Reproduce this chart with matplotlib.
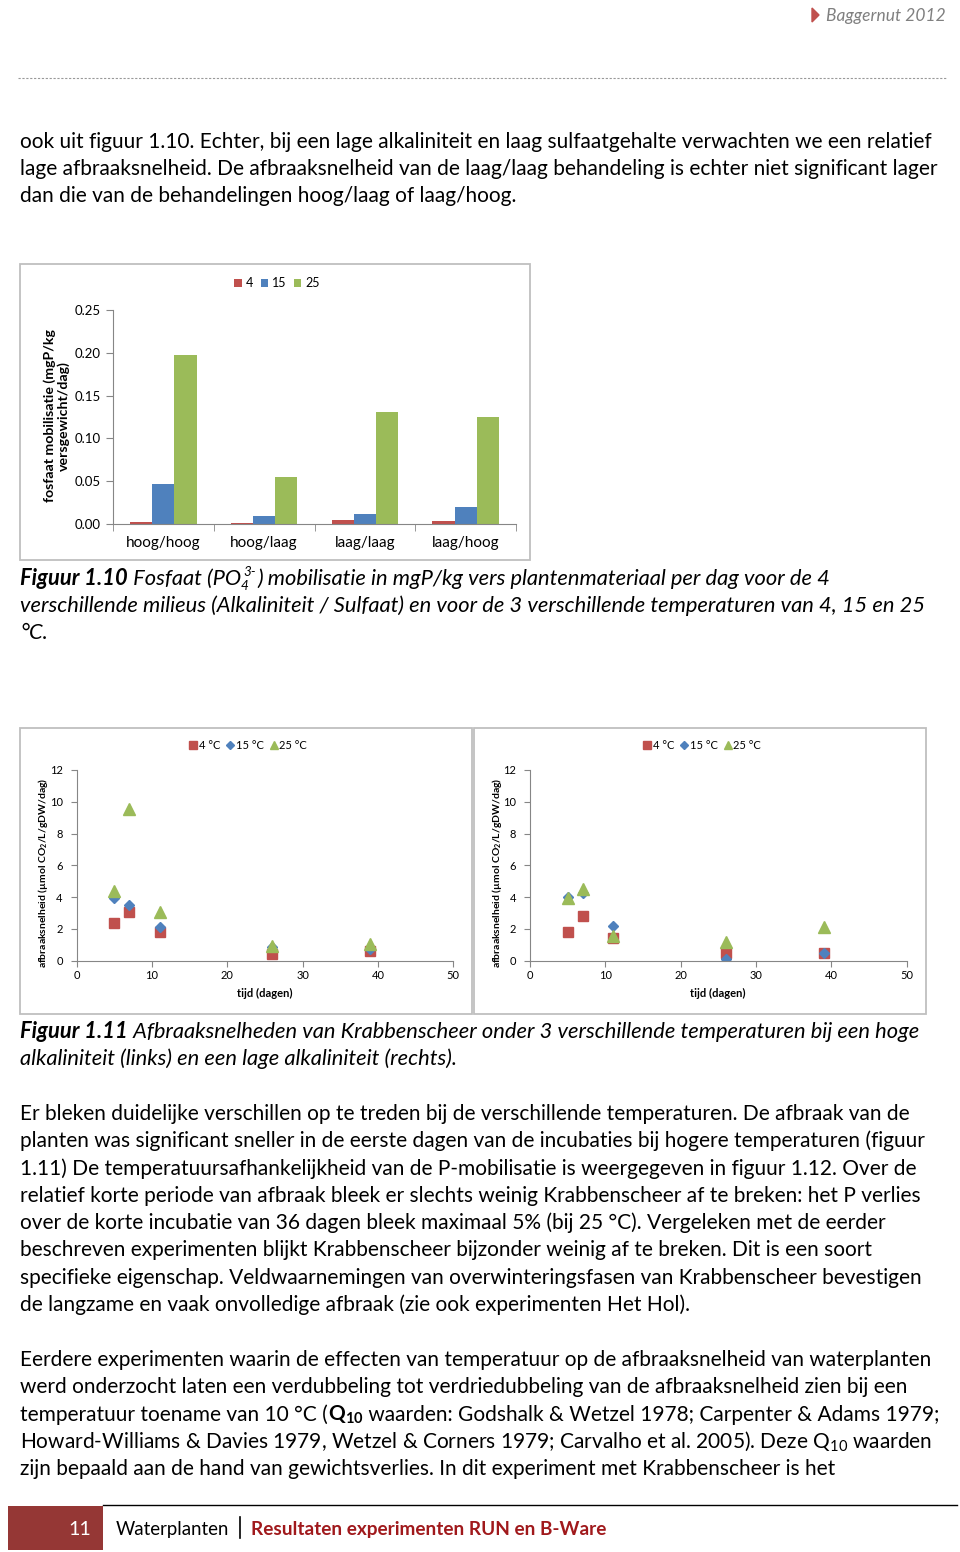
import matplotlib
matplotlib.use("Agg")
import matplotlib.pyplot as plt
from matplotlib.patches import Rectangle, Polygon
from matplotlib.lines import Line2D
import numpy as np

FONT = ["Lato", "DejaVu Sans"]
plt.rcParams["font.family"] = FONT
plt.rcParams["mathtext.fontset"] = "custom"
plt.rcParams["mathtext.rm"] = "Lato"
plt.rcParams["mathtext.it"] = "Lato:italic"
plt.rcParams["mathtext.bf"] = "Lato:bold"

# data: figuur 1.10
milieus = ["hoog/hoog", "hoog/laag", "laag/laag", "laag/hoog"]
temps_bar = ["4", "15", "25"]
p_4 = [0.002, 0.001, 0.005, 0.003]
p_15 = [0.047, 0.009, 0.012, 0.020]
p_25 = [0.198, 0.055, 0.131, 0.125]

# data: figuur 1.11 (tijd in dagen)
tijd = [5, 7, 11, 26, 39]
hoog_4 = [2.39, 3.08, 1.80, 0.44, 0.61]
hoog_15 = [3.96, 3.50, 2.14, 0.88, 0.73]
hoog_25 = [4.38, 9.52, 3.08, 0.94, 1.07]
laag_4 = [1.83, 2.81, 1.45, 0.48, 0.50]
laag_15 = [4.03, 4.28, 2.18, 0.08, 0.48]
laag_25 = [3.96, 4.51, 1.53, 1.15, 2.10]
temps_scatter = ["4 °C", "15 °C", "25 °C"]

RED, BLUE, GREEN = "#C0504D", "#4F81BD", "#9BBB59"
AXC = "#868686"
W, H = 960, 1552

fig = plt.figure(figsize=(W / 100, H / 100), dpi=100)
r = fig.canvas.get_renderer()


def fx(x):
    return x / W


def fy(y):
    return 1 - y / H


def fit_size(s, width, base=12, **kw):
    t = fig.text(0, 0, s, fontsize=base, **kw)
    w = t.get_window_extent(renderer=r).width
    t.remove()
    return base * width / w


def runs(x, y, parts, size, color="black"):
    # draw pieces of one line next to each other, return end x
    for s, style in parts:
        t = fig.text(fx(x), fy(y), s, fontsize=size, va="baseline", ha="left",
                     color=color, **style)
        x += t.get_window_extent(renderer=r).width
    return x


def box(x0, y0, x1, y1):
    fig.add_artist(Rectangle((fx(x0), fy(y1)), (x1 - x0) / W, (y1 - y0) / H,
                             transform=fig.transFigure, fill=False,
                             ec="#BFBFBF", lw=1.3))


# ---- header
fig.add_artist(Polygon([[fx(812), fy(8)], [fx(812), fy(22)], [fx(819), fy(15)]],
                       closed=True, transform=fig.transFigure, color=RED))
hs = fit_size("Baggernut 2012", 119, style="italic")
fig.text(fx(826), fy(21), "Baggernut 2012", fontsize=hs, style="italic",
         color="#808080", va="baseline")
fig.add_artist(Line2D([fx(18), fx(947)], [fy(78), fy(78)], transform=fig.transFigure,
                      color="#999999", lw=0.8, ls=(0, (2, 1.5))))

# ---- body text
line1 = "ook uit figuur 1.10. Echter, bij een lage alkaliniteit en laag sulfaatgehalte verwachten we een relatief"
BS = fit_size(line1, 912)
cap2 = "verschillende milieus (Alkaliniteit / Sulfaat) en voor de 3 verschillende temperaturen van 4, 15 en 25"
IS = fit_size(cap2, 900, style="italic")
N = {}
I = {"style": "italic"}
BI = {"style": "italic", "weight": "bold"}
B = {"weight": "bold"}

para1 = [
    line1,
    "lage afbraaksnelheid. De afbraaksnelheid van de laag/laag behandeling is echter niet significant lager",
    "dan die van de behandelingen hoog/laag of laag/hoog.",
]
for i, s in enumerate(para1):
    runs(20, 148 + 27 * i, [(s, N)], BS)

# caption 1.10 with stacked sub/superscript
xe = runs(20, 585, [("Figuur 1.10", BI), (" Fosfaat (PO", I)], IS)
w1 = runs(xe, 590, [("4", I)], IS * 0.62)
w2 = runs(xe + 3, 576, [("3-", I)], IS * 0.62)
runs(max(w1, w2) + 1, 585, [(") mobilisatie in mgP/kg vers plantenmateriaal per dag voor de 4", I)], IS)
runs(20, 612, [(cap2, I)], IS)
runs(20, 639, [("°C.", I)], IS)

runs(20, 1038, [("Figuur 1.11", BI),
                (" Afbraaksnelheden van Krabbenscheer onder 3 verschillende temperaturen bij een hoge", I)], IS)
runs(20, 1065, [("alkaliniteit (links) en een lage alkaliniteit (rechts).", I)], IS)

para2 = [
    "Er bleken duidelijke verschillen op te treden bij de verschillende temperaturen. De afbraak van de",
    "planten was significant sneller in de eerste dagen van de incubaties bij hogere temperaturen (figuur",
    "1.11) De temperatuursafhankelijkheid van de P-mobilisatie is weergegeven in figuur 1.12. Over de",
    "relatief korte periode van afbraak bleek er slechts weinig Krabbenscheer af te breken: het P verlies",
    "over de korte incubatie van 36 dagen bleek maximaal 5% (bij 25 °C). Vergeleken met de eerder",
    "beschreven experimenten blijkt Krabbenscheer bijzonder weinig af te breken. Dit is een soort",
    "specifieke eigenschap. Veldwaarnemingen van overwinteringsfasen van Krabbenscheer bevestigen",
    "de langzame en vaak onvolledige afbraak (zie ook experimenten Het Hol).",
]
for i, s in enumerate(para2):
    runs(20, 1120 + 27.3 * i, [(s, N)], BS)

y3 = [1366, 1393, 1421, 1448, 1475]
runs(20, y3[0], [("Eerdere experimenten waarin de effecten van temperatuur op de afbraaksnelheid van waterplanten", N)], BS)
runs(20, y3[1], [("werd onderzocht laten een verdubbeling tot verdriedubbeling van de afbraaksnelheid zien bij een", N)], BS)
runs(20, y3[2], [("temperatuur toename van 10 °C (", N), (r"Q$_{\mathbf{10}}$", B),
                 (" waarden: Godshalk & Wetzel 1978; Carpenter & Adams 1979;", N)], BS)
runs(20, y3[3], [(r"Howard-Williams & Davies 1979, Wetzel & Corners 1979; Carvalho et al. 2005). Deze Q$_{10}$ waarden", N)], BS)
runs(20, y3[4], [("zijn bepaald aan de hand van gewichtsverlies. In dit experiment met Krabbenscheer is het", N)], BS)

# ---- figuur 1.10 bar chart
box(20, 264, 530, 560)
ax1 = fig.add_axes([fx(113), fy(524), (516 - 113) / W, (524 - 310) / H])
x = np.arange(len(milieus)) + 0.5
bw = 0.22
for off, vals, c, lab in [(-bw, p_4, RED, temps_bar[0]), (0, p_15, BLUE, temps_bar[1]),
                          (bw, p_25, GREEN, temps_bar[2])]:
    ax1.bar(x + off, vals, bw, color=c, label=lab)
ax1.set_xlim(0, 4)
ax1.set_ylim(0, 0.25)
ax1.set_yticks(np.arange(0, 0.26, 0.05))
ax1.set_yticklabels(["%.2f" % v for v in np.arange(0, 0.26, 0.05)], fontsize=9.5)
ax1.set_xticks(x)
ax1.set_xticklabels(milieus, fontsize=11)
ax1.set_xticks(np.arange(5), minor=True)
ax1.tick_params(axis="x", which="major", length=0, pad=9)
ax1.tick_params(axis="x", which="minor", length=5, color=AXC)
ax1.tick_params(axis="y", length=5, color=AXC, pad=4)
for s in ["top", "right"]:
    ax1.spines[s].set_visible(False)
for s in ["left", "bottom"]:
    ax1.spines[s].set_color(AXC)
ax1.patch.set_alpha(0)
fig.text(fx(57), fy(416), "fosfaat mobilisatie (mgP/kg\nversgewicht/dag)", rotation=90,
         ha="center", va="center", fontsize=10.2, weight="bold", linespacing=1.1,
         multialignment="center")
ax1.legend(loc="center", bbox_to_anchor=(fx(277), fy(283)), bbox_transform=fig.transFigure,
           ncol=3, frameon=False, handlelength=0.6, handleheight=0.6, handletextpad=0.3,
           columnspacing=0.6, fontsize=9)


# ---- figuur 1.11 scatter charts
def scatter_panel(left, frame, a4, a15, a25, ylab_x, leg_x):
    box(*frame)
    ax = fig.add_axes([fx(left), fy(960.7), 376.5 / W, (960.7 - 770) / H])
    ax.plot(tijd, a4, ls="none", marker="s", ms=7.5, color=RED, label=temps_scatter[0])
    ax.plot(tijd, a15, ls="none", marker="D", ms=5.5, color=BLUE, label=temps_scatter[1])
    ax.plot(tijd, a25, ls="none", marker="^", ms=8, color=GREEN, label=temps_scatter[2])
    ax.set_xlim(0, 50)
    ax.set_ylim(0, 12)
    ax.set_xticks(range(0, 51, 10))
    ax.set_yticks(range(0, 13, 2))
    ax.tick_params(labelsize=8, length=4, color=AXC, pad=3)
    ax.tick_params(axis="y", pad=6)
    for s in ["top", "right"]:
        ax.spines[s].set_visible(False)
    for s in ["left", "bottom"]:
        ax.spines[s].set_color(AXC)
    ax.patch.set_alpha(0)
    fig.text(fx(left + 188), fy(993), "tijd (dagen)", ha="center", va="center",
             fontsize=8, weight="bold")
    fig.text(fx(ylab_x), fy(873), r"afbraaksnelheid (µmol CO$_{\mathbf{2}}$/L/gDW/dag)",
             rotation=90, ha="center", va="center", fontsize=7.5, weight="bold")
    ax.legend(loc="center", bbox_to_anchor=(fx(leg_x), fy(745)), bbox_transform=fig.transFigure,
              ncol=3, frameon=False, handlelength=0.8, handletextpad=0.1, columnspacing=0.5,
              fontsize=8, markerscale=0.8)


scatter_panel(76.7, (20, 728, 472, 1014), hoog_4, hoog_15, hoog_25, 43, 248)
scatter_panel(530, (474, 728, 926, 1014), laag_4, laag_15, laag_25, 497, 702)

# ---- footer
fig.add_artist(Line2D([fx(103), fx(957)], [fy(1505), fy(1505)], transform=fig.transFigure,
                      color="black", lw=1))
fig.add_artist(Rectangle((fx(8), fy(1550)), 95 / W, 44 / H, transform=fig.transFigure,
                         color="#953735", lw=0))
fs = fit_size("Waterplanten", 113)
fig.text(fx(91), fy(1535), "11", color="white", fontsize=fs * 1.05, ha="right", va="baseline")
runs(116, 1535, [("Waterplanten", N)], fs)
fig.add_artist(Line2D([fx(240), fx(240)], [fy(1517), fy(1538)], transform=fig.transFigure,
                      color="black", lw=1.2))
fs2 = fit_size("Resultaten experimenten RUN en B-Ware", 353, weight="bold")
runs(251, 1535, [("Resultaten experimenten RUN en B-Ware", B)], fs2, color="#A0191C")

fig.savefig("out.png", dpi=100)
